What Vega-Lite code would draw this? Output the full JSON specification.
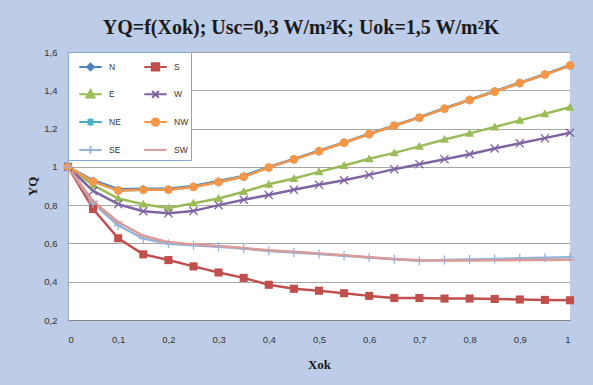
{
  "$schema": "https://vega.github.io/schema/vega-lite/v6.json",
  "width": 502,
  "height": 268,
  "autosize": {"type": "none"},
  "padding": {"left": 68, "top": 52, "right": 23, "bottom": 65},
  "background": "#bdcde8",
  "title": {"text": "YQ=f(Xok); Usc=0,3 W/m²K; Uok=1,5 W/m²K", "font": "Liberation Serif", "fontSize": 20, "fontWeight": "bold", "color": "#1a1a1a", "anchor": "middle", "dx": -18, "offset": 9},
  "data": {"values": [
    {"s":"N","x":0,"y":1},{"s":"N","x":0.05,"y":0.93},{"s":"N","x":0.1,"y":0.883},{"s":"N","x":0.15,"y":0.886},{"s":"N","x":0.2,"y":0.886},{"s":"N","x":0.25,"y":0.9},{"s":"N","x":0.3,"y":0.926},{"s":"N","x":0.35,"y":0.953},{"s":"N","x":0.4,"y":1.0},{"s":"N","x":0.45,"y":1.041},{"s":"N","x":0.5,"y":1.084},{"s":"N","x":0.55,"y":1.128},{"s":"N","x":0.6,"y":1.173},{"s":"N","x":0.65,"y":1.217},{"s":"N","x":0.7,"y":1.259},{"s":"N","x":0.75,"y":1.306},{"s":"N","x":0.8,"y":1.351},{"s":"N","x":0.85,"y":1.395},{"s":"N","x":0.9,"y":1.44},{"s":"N","x":0.95,"y":1.484},{"s":"N","x":1,"y":1.531},
    {"s":"S","x":0,"y":1},{"s":"S","x":0.05,"y":0.78},{"s":"S","x":0.1,"y":0.627},{"s":"S","x":0.15,"y":0.543},{"s":"S","x":0.2,"y":0.513},{"s":"S","x":0.25,"y":0.48},{"s":"S","x":0.3,"y":0.448},{"s":"S","x":0.35,"y":0.42},{"s":"S","x":0.4,"y":0.384},{"s":"S","x":0.45,"y":0.363},{"s":"S","x":0.5,"y":0.353},{"s":"S","x":0.55,"y":0.34},{"s":"S","x":0.6,"y":0.326},{"s":"S","x":0.65,"y":0.315},{"s":"S","x":0.7,"y":0.315},{"s":"S","x":0.75,"y":0.312},{"s":"S","x":0.8,"y":0.312},{"s":"S","x":0.85,"y":0.31},{"s":"S","x":0.9,"y":0.307},{"s":"S","x":0.95,"y":0.305},{"s":"S","x":1,"y":0.303},
    {"s":"E","x":0,"y":1},{"s":"E","x":0.05,"y":0.905},{"s":"E","x":0.1,"y":0.835},{"s":"E","x":0.15,"y":0.805},{"s":"E","x":0.2,"y":0.785},{"s":"E","x":0.25,"y":0.81},{"s":"E","x":0.3,"y":0.835},{"s":"E","x":0.35,"y":0.87},{"s":"E","x":0.4,"y":0.909},{"s":"E","x":0.45,"y":0.939},{"s":"E","x":0.5,"y":0.974},{"s":"E","x":0.55,"y":1.007},{"s":"E","x":0.6,"y":1.042},{"s":"E","x":0.65,"y":1.073},{"s":"E","x":0.7,"y":1.107},{"s":"E","x":0.75,"y":1.143},{"s":"E","x":0.8,"y":1.175},{"s":"E","x":0.85,"y":1.208},{"s":"E","x":0.9,"y":1.243},{"s":"E","x":0.95,"y":1.277},{"s":"E","x":1,"y":1.311},
    {"s":"W","x":0,"y":1},{"s":"W","x":0.05,"y":0.874},{"s":"W","x":0.1,"y":0.805},{"s":"W","x":0.15,"y":0.768},{"s":"W","x":0.2,"y":0.758},{"s":"W","x":0.25,"y":0.77},{"s":"W","x":0.3,"y":0.8},{"s":"W","x":0.35,"y":0.828},{"s":"W","x":0.4,"y":0.853},{"s":"W","x":0.45,"y":0.88},{"s":"W","x":0.5,"y":0.906},{"s":"W","x":0.55,"y":0.93},{"s":"W","x":0.6,"y":0.958},{"s":"W","x":0.65,"y":0.988},{"s":"W","x":0.7,"y":1.014},{"s":"W","x":0.75,"y":1.04},{"s":"W","x":0.8,"y":1.066},{"s":"W","x":0.85,"y":1.096},{"s":"W","x":0.9,"y":1.123},{"s":"W","x":0.95,"y":1.15},{"s":"W","x":1,"y":1.178},
    {"s":"NE","x":0,"y":1},{"s":"NE","x":0.05,"y":0.924},{"s":"NE","x":0.1,"y":0.877},{"s":"NE","x":0.15,"y":0.88},{"s":"NE","x":0.2,"y":0.881},{"s":"NE","x":0.25,"y":0.896},{"s":"NE","x":0.3,"y":0.921},{"s":"NE","x":0.35,"y":0.949},{"s":"NE","x":0.4,"y":0.997},{"s":"NE","x":0.45,"y":1.039},{"s":"NE","x":0.5,"y":1.082},{"s":"NE","x":0.55,"y":1.126},{"s":"NE","x":0.6,"y":1.171},{"s":"NE","x":0.65,"y":1.215},{"s":"NE","x":0.7,"y":1.257},{"s":"NE","x":0.75,"y":1.304},{"s":"NE","x":0.8,"y":1.349},{"s":"NE","x":0.85,"y":1.393},{"s":"NE","x":0.9,"y":1.438},{"s":"NE","x":0.95,"y":1.482},{"s":"NE","x":1,"y":1.529},
    {"s":"NW","x":0,"y":1},{"s":"NW","x":0.05,"y":0.923},{"s":"NW","x":0.1,"y":0.876},{"s":"NW","x":0.15,"y":0.88},{"s":"NW","x":0.2,"y":0.88},{"s":"NW","x":0.25,"y":0.895},{"s":"NW","x":0.3,"y":0.921},{"s":"NW","x":0.35,"y":0.948},{"s":"NW","x":0.4,"y":0.997},{"s":"NW","x":0.45,"y":1.039},{"s":"NW","x":0.5,"y":1.082},{"s":"NW","x":0.55,"y":1.126},{"s":"NW","x":0.6,"y":1.171},{"s":"NW","x":0.65,"y":1.215},{"s":"NW","x":0.7,"y":1.257},{"s":"NW","x":0.75,"y":1.304},{"s":"NW","x":0.8,"y":1.349},{"s":"NW","x":0.85,"y":1.393},{"s":"NW","x":0.9,"y":1.438},{"s":"NW","x":0.95,"y":1.482},{"s":"NW","x":1,"y":1.529},
    {"s":"SE","x":0,"y":1},{"s":"SE","x":0.05,"y":0.81},{"s":"SE","x":0.1,"y":0.695},{"s":"SE","x":0.15,"y":0.625},{"s":"SE","x":0.2,"y":0.598},{"s":"SE","x":0.25,"y":0.59},{"s":"SE","x":0.3,"y":0.582},{"s":"SE","x":0.35,"y":0.573},{"s":"SE","x":0.4,"y":0.561},{"s":"SE","x":0.45,"y":0.553},{"s":"SE","x":0.5,"y":0.545},{"s":"SE","x":0.55,"y":0.536},{"s":"SE","x":0.6,"y":0.526},{"s":"SE","x":0.65,"y":0.517},{"s":"SE","x":0.7,"y":0.51},{"s":"SE","x":0.75,"y":0.513},{"s":"SE","x":0.8,"y":0.516},{"s":"SE","x":0.85,"y":0.519},{"s":"SE","x":0.9,"y":0.522},{"s":"SE","x":0.95,"y":0.525},{"s":"SE","x":1,"y":0.528},
    {"s":"SW","x":0,"y":1},{"s":"SW","x":0.05,"y":0.82},{"s":"SW","x":0.1,"y":0.712},{"s":"SW","x":0.15,"y":0.64},{"s":"SW","x":0.2,"y":0.607},{"s":"SW","x":0.25,"y":0.595},{"s":"SW","x":0.3,"y":0.586},{"s":"SW","x":0.35,"y":0.576},{"s":"SW","x":0.4,"y":0.564},{"s":"SW","x":0.45,"y":0.556},{"s":"SW","x":0.5,"y":0.547},{"s":"SW","x":0.55,"y":0.538},{"s":"SW","x":0.6,"y":0.528},{"s":"SW","x":0.65,"y":0.519},{"s":"SW","x":0.7,"y":0.512},{"s":"SW","x":0.75,"y":0.511},{"s":"SW","x":0.8,"y":0.511},{"s":"SW","x":0.85,"y":0.512},{"s":"SW","x":0.9,"y":0.513},{"s":"SW","x":0.95,"y":0.514},{"s":"SW","x":1,"y":0.515}
  ]},
  "encoding": {
    "x": {"field": "x", "type": "quantitative", "scale": {"domain": [0, 1], "nice": false},
      "axis": {"values": [0,0.1,0.2,0.3,0.4,0.5,0.6,0.7,0.8,0.9,1], "labelExpr": "replace(datum.value + '', '.', ',')", "grid": false, "ticks": false, "domainColor": "#868686", "labelPadding": 14, "labelFont": "Liberation Sans", "labelFontSize": 9.5, "labelColor": "#333333", "title": "Xok", "titleFont": "Liberation Serif", "titleFontSize": 13, "titleFontWeight": "bold", "titleColor": "#1a1a1a", "titlePadding": 15}},
    "y": {"field": "y", "type": "quantitative", "scale": {"domain": [0.2, 1.6], "nice": false, "zero": false},
      "axis": {"values": [0.2,0.4,0.6,0.8,1,1.2,1.4,1.6], "labelExpr": "replace(datum.value + '', '.', ',')", "grid": true, "gridColor": "#a6a6a6", "ticks": false, "domainColor": "#a6a6a6", "labelPadding": 11, "labelFont": "Liberation Sans", "labelFontSize": 9.5, "labelColor": "#333333", "title": "YQ", "titleAngle": 270, "titleFont": "Liberation Serif", "titleFontSize": 13, "titleFontWeight": "bold", "titleColor": "#1a1a1a", "titlePadding": 4}},
    "color": {"field": "s", "type": "nominal",
      "scale": {"domain": ["N","S","E","W","NE","NW","SE","SW"], "range": ["#4f81bd","#c0504d","#9bbb59","#8064a2","#4bacc6","#f79646","#95b3d7","#dc9a98"]},
      "legend": {"title": null, "orient": "top-left", "offset": 0, "columns": 2, "direction": "horizontal", "fillColor": "white", "strokeColor": "#82a8d8", "padding": 2, "symbolSize": 506, "symbolOffset": 8, "labelOffset": 6, "rowPadding": 6.8, "columnPadding": 11, "gridAlign": "all", "labelFont": "Liberation Sans", "labelFontSize": 8.5, "labelColor": "#333333",
        "encode": {"symbols": {"update": {
          "shape": {"signal": "datum.value==='N'?'M-1,0H1M0,-0.3L0.3,0L0,0.3L-0.3,0Z':datum.value==='S'?'M-1,0H1M-0.33,-0.33H0.33V0.33H-0.33Z':datum.value==='E'?'M-1,0H1M0,-0.38L0.36,0.28H-0.36Z':datum.value==='W'?'M-1,0H1M-0.3,-0.3L0.3,0.3M-0.3,0.3L0.3,-0.3':datum.value==='NE'?'M-1,0H1M0,-0.34V0.34M-0.25,-0.25L0.25,0.25M-0.25,0.25L0.25,-0.25':datum.value==='NW'?'M-1,0H1M0.33,0A0.33,0.33 0 1,1 -0.33,0A0.33,0.33 0 1,1 0.33,0Z':datum.value==='SE'?'M-1,0H1M0,-0.34V0.34':'M-1,0H1'"},
          "size": {"value": 506},
          "fill": {"scale": "color", "field": "value"},
          "stroke": {"scale": "color", "field": "value"},
          "strokeWidth": {"value": 2},
          "opacity": {"value": 1},
          "fillOpacity": {"value": 1},
          "strokeOpacity": {"value": 1}
        }}}}
    }
  },
  "layer": [
    {"mark": {"type": "line", "strokeWidth": 2.5, "strokeJoin": "round", "strokeCap": "round"}},
    {"transform": [{"filter": {"field": "s", "equal": "N"}}], "mark": {"type": "point", "filled": true, "opacity": 1, "size": 81, "shape": "M0,-0.85L0.85,0L0,0.85L-0.85,0Z"}},
    {"transform": [{"filter": {"field": "s", "equal": "S"}}], "mark": {"type": "point", "filled": true, "opacity": 1, "size": 81, "shape": "M-0.9,-0.9H0.9V0.9H-0.9Z"}},
    {"transform": [{"filter": {"field": "s", "equal": "E"}}], "mark": {"type": "point", "filled": true, "opacity": 1, "size": 81, "shape": "M0,-1L1,0.75H-1Z"}},
    {"transform": [{"filter": {"field": "s", "equal": "W"}}], "mark": {"type": "point", "filled": false, "opacity": 1, "strokeWidth": 1.3, "size": 81, "shape": "M-0.9,-0.9L0.9,0.9M-0.9,0.9L0.9,-0.9"}},
    {"transform": [{"filter": {"field": "s", "equal": "NE"}}], "mark": {"type": "point", "filled": false, "opacity": 1, "strokeWidth": 1.3, "size": 81, "shape": "M0,-1V1M-1,0H1M-0.7,-0.7L0.7,0.7M-0.7,0.7L0.7,-0.7"}},
    {"transform": [{"filter": {"field": "s", "equal": "NW"}}], "mark": {"type": "point", "filled": true, "opacity": 1, "size": 81, "shape": "M0.95,0A0.95,0.95 0 1,1 -0.95,0A0.95,0.95 0 1,1 0.95,0Z"}},
    {"transform": [{"filter": {"field": "s", "equal": "SE"}}], "mark": {"type": "point", "filled": false, "opacity": 1, "strokeWidth": 1.3, "size": 81, "shape": "M0,-1V1M-1,0H1"}},
    {"transform": [{"filter": {"field": "s", "equal": "SW"}}], "mark": {"type": "point", "filled": false, "opacity": 1, "strokeWidth": 1.3, "size": 81, "shape": "M-1,0H1"}}
  ],
  "config": {"view": {"stroke": null, "fill": "white"}}
}
